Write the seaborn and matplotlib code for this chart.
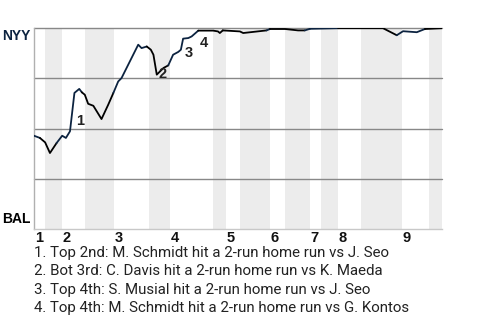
import matplotlib
matplotlib.use("Agg")
import matplotlib.pyplot as plt
import seaborn as sns
import pandas as pd

# ---------------- data ----------------
# half-inning boundaries on the event axis (top 1st, bot 1st, top 2nd, ...)
half_bounds = [0, 3.0, 7.5, 13.7, 21.6, 31.0, 36.7, 48.2, 51.8, 55.5,
               63.6, 67.7, 74.4, 77.4, 81.9, 88.1, 99.2, 106.5, 110.0]
inning_labels = ["1", "2", "3", "4", "5", "6", "7", "8", "9"]

# NYY win probability by game event
event = [0, 1.6, 3.0, 4.3, 6.1, 7.6, 8.6, 9.7, 10.9, 12.2, 12.9, 13.7, 14.6,
         16.0, 18.2, 20.0, 21.4, 22.7, 23.6, 28.1, 29.0, 30.4, 31.5, 32.2,
         33.1, 34.9, 36.2, 37.5, 38.9, 39.6, 40.2, 41.6, 42.5, 44.3, 48.3,
         49.6, 50.1, 50.9, 55.5, 56.4, 62.7, 63.6, 67.7, 71.2, 73.0, 74.4,
         82.0, 94.1, 97.8, 99.5, 103.2, 105.4, 110.0]
wp = [0.464, 0.453, 0.431, 0.378, 0.428, 0.464, 0.453, 0.486, 0.677, 0.697,
      0.680, 0.668, 0.623, 0.613, 0.547, 0.618, 0.677, 0.734, 0.751, 0.917,
      0.900, 0.908, 0.892, 0.867, 0.768, 0.801, 0.814, 0.867, 0.881, 0.892,
      0.947, 0.950, 0.958, 0.987, 0.987, 0.983, 0.975, 0.988, 0.983, 0.975,
      0.988, 0.995, 0.995, 0.988, 0.988, 0.996, 0.999, 0.999, 0.964, 0.984,
      0.979, 0.995, 0.999]

# home runs: index of the event in the arrays above, and label
hr_event_index = [8, 24, 30, 33]
hr_labels = ["1", "2", "3", "4"]
notes = [
    "1. Top 2nd: M. Schmidt hit a 2-run home run vs J. Seo",
    "2. Bot 3rd: C. Davis hit a 2-run home run vs K. Maeda",
    "3. Top 4th: S. Musial hit a 2-run home run vs J. Seo",
    "4. Top 4th: M. Schmidt hit a 2-run home run vs G. Kontos",
]
teams = ["NYY", "BAL"]            # away (top), home (bottom)
team_colors = ["#0c2340", "#000000"]

# ---------------- build segments coloured by batting team ----------------
def half_of(x):
    j = 0
    for k in range(len(half_bounds) - 1):
        if x >= half_bounds[k]:
            j = k
    return j

rows = []
seg = 0
prev_half = None
prev_pt = None
palette = {}
for x, y in zip(event, wp):
    h = half_of(x)
    if prev_half is None or h != prev_half:
        if prev_half is not None:
            seg += 1
            rows.append({"event": prev_pt[0], "wp": prev_pt[1], "seg": seg})
        palette[seg] = team_colors[h % 2]
    rows.append({"event": x, "wp": y, "seg": seg})
    prev_half = h
    prev_pt = (x, y)
df = pd.DataFrame(rows)

# ---------------- plot ----------------
sns.set_theme(style="white")
plt.rcParams["font.family"] = ["Liberation Sans", "DejaVu Sans"]

fig = plt.figure(figsize=(4.8, 3.2), dpi=100)
ax = fig.add_axes([34 / 480, 1 - 229 / 320, 408 / 480, 201 / 320])

for k in range(1, len(half_bounds) - 1, 2):
    ax.axvspan(half_bounds[k], half_bounds[k + 1], color="#ececec", lw=0, zorder=0)

for g in [0.25, 0.5, 0.75, 1.0]:
    ax.axhline(g, color="#888888", lw=1.0, zorder=1, clip_on=False)

sns.lineplot(data=df, x="event", y="wp", hue="seg", palette=palette,
             estimator=None, sort=False, legend=False, lw=1.3, ax=ax, zorder=3)

ax.set_xlim(half_bounds[0], half_bounds[-1])
ax.set_ylim(0, 1)
ax.set_xticks([])
ax.set_yticks([])
ax.set_xlabel("")
ax.set_ylabel("")
for s in ["top", "right"]:
    ax.spines[s].set_visible(False)
ax.spines["left"].set_color("#b0b0b0")
ax.spines["bottom"].set_color("#c8c8c8")
ax.spines["left"].set_linewidth(1.0)
ax.spines["bottom"].set_linewidth(1.0)

# team labels
ax.annotate(teams[0], xy=(0, 1), xycoords="axes fraction", xytext=(-2.5, -0.5),
            textcoords="offset points", ha="right", va="top",
            fontsize=10, fontweight="bold", color=team_colors[0])
ax.annotate(teams[1], xy=(0, 0), xycoords="axes fraction", xytext=(-2.5, 2),
            textcoords="offset points", ha="right", va="bottom",
            fontsize=10, fontweight="bold", color=team_colors[1])

# inning labels
for i, lab in enumerate(inning_labels):
    ax.annotate(lab, xy=(half_bounds[2 * i], 0), xycoords=("data", "axes fraction"),
                xytext=(0.5, -1.5), textcoords="offset points", ha="left", va="top",
                fontsize=10.5, fontweight="bold", color="#111111")

# home-run markers
for idx, lab in zip(hr_event_index, hr_labels):
    ymid = (wp[idx - 1] + wp[idx]) / 2
    ax.annotate(lab, xy=(event[idx], ymid), xycoords="data", xytext=(1, -1.5),
                textcoords="offset points", ha="left", va="top",
                fontsize=10.5, fontweight="bold", color="#222222", zorder=4)

# footnotes
for i, t in enumerate(notes):
    fig.text(34 / 480, 1 - (253 + 18.3 * i) / 320, t, ha="left", va="center",
             fontsize=10.8, family=["Roboto", "DejaVu Sans"], color="#222222")

fig.savefig("out.png", dpi=100)
